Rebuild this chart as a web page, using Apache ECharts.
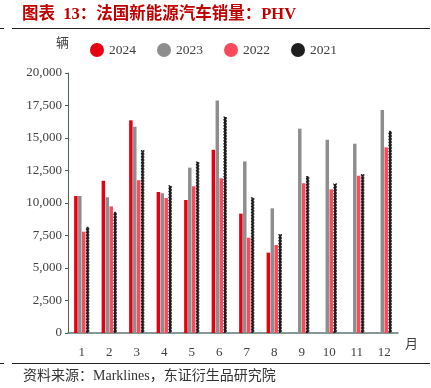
<!DOCTYPE html>
<html><head><meta charset="utf-8">
<script src="https://cdn.jsdelivr.net/npm/echarts@6/dist/echarts.min.js"></script>
<style>html,body{margin:0;padding:0;background:#fff}#c{width:431px;height:388px}</style>
</head><body><div id="c"></div>
<script>
const months = ['1','2','3','4','5','6','7','8','9','10','11','12'];
const yTicks = [0,2500,5000,7500,10000,12500,15000,17500,20000];
const s2024 = [10540,11720,16360,10850,10230,14100,9180,6180,null,null,null,null];
const s2023 = [10540,10440,15870,10750,12720,17880,13200,9590,15720,14870,14560,17150];
const s2022 = [7790,9740,11750,10380,11280,11900,7330,6770,11510,11050,12100,14280];
const s2021 = [8180,9330,14080,11360,13200,16660,10440,7620,12080,11510,12230,15560];
const seriesNames = ['2024','2023','2022','2021'];
const colors = ['#e50012','#8e8e8e','#f84a5a','#1e1e1e'];

const chart = echarts.init(document.getElementById('c'));
const serif = '"Liberation Serif","DejaVu Serif",serif';
const mixed = '"Liberation Serif","Noto Sans CJK SC",serif';
const data = [s2024, s2023, s2022, s2021];
chart.setOption({
  animation:false,
  grid:{left:68,right:33,top:73,bottom:55},
  legend:{left:85,top:38,icon:'circle',itemWidth:14,itemHeight:14,itemGap:21,
    itemStyle:{borderWidth:0},
    textStyle:{fontFamily:serif,fontSize:13.5,color:'#404040'},data:seriesNames},
  xAxis:{type:'category',data:months,
    axisLine:{lineStyle:{color:'#5f7575',width:1.5}},
    axisTick:{inside:true,length:3,lineStyle:{color:'#5f7575'}},
    axisLabel:{fontFamily:serif,fontSize:13,color:'#404040',margin:13}},
  yAxis:{type:'value',min:yTicks[0],max:yTicks[yTicks.length-1],interval:yTicks[1]-yTicks[0],
    splitLine:{show:false},
    axisLine:{show:true,lineStyle:{color:'#4a6262'}},
    axisTick:{show:true,length:3,lineStyle:{color:'#4a6262'}},
    axisLabel:{fontFamily:serif,fontSize:13,color:'#404040',margin:6,
      formatter:v=>v.toLocaleString('en-US')}},
  series:seriesNames.map((n,i)=>({name:n,type:'bar',data:data[i],barWidth:3.5,barGap:'12%',
    itemStyle: i===3 ? {color:colors[i],borderColor:colors[i],borderWidth:1.2,borderType:[1.5,1.5]}
                     : {color:colors[i]}})),
  graphic:[
    {type:'text',left:22,top:6,style:{text:'图表  13：法国新能源汽车销量：PHV',fill:'#c00000',
      font:'bold 16.5px '+mixed}},
    {type:'line',shape:{x1:12,y1:28.5,x2:430,y2:28.5},style:{stroke:'#222',lineWidth:1}},
    {type:'line',shape:{x1:0,y1:28.5,x2:4,y2:28.5},style:{stroke:'#222',lineWidth:1}},
    {type:'text',left:56,top:37,style:{text:'辆',fill:'#404040',font:'13px '+mixed}},
    {type:'text',left:405,top:338,style:{text:'月',fill:'#404040',font:'13px '+mixed}},
    {type:'line',shape:{x1:12,y1:363.5,x2:430,y2:363.5},style:{stroke:'#222',lineWidth:1}},
    {type:'line',shape:{x1:0,y1:363.5,x2:4,y2:363.5},style:{stroke:'#222',lineWidth:1}},
    {type:'text',left:23,top:369,style:{text:'资料来源：Marklines，东证衍生品研究院',fill:'#333',
      font:'14px '+mixed}}
  ]
});
</script></body></html>
